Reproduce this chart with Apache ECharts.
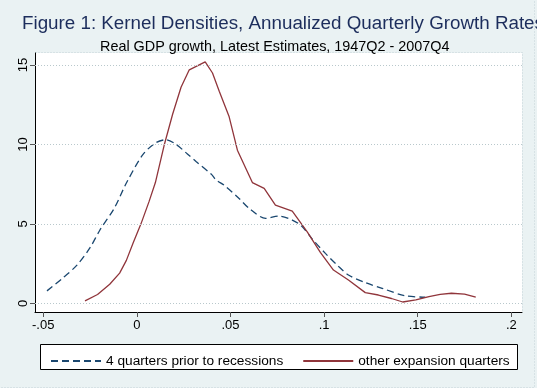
<!DOCTYPE html>
<html>
<head>
<meta charset="utf-8">
<script src="https://cdn.jsdelivr.net/npm/echarts@6/dist/echarts.min.js"></script>
<style>
html,body{margin:0;padding:0;background:#eaf2f3;}
#chart{width:537px;height:388px;}
</style>
</head>
<body>
<div id="chart"></div>
<script>
// Data
const priorX = [-0.048,-0.040,-0.032,-0.025,-0.0198,-0.012,-0.0056,0.0032,0.010,0.0156,0.021,0.027,0.0316,0.040,0.0422,0.047,0.0546,0.060,0.0688,0.076,0.083,0.088,0.094,0.1007,0.107,0.113,0.122,0.131,0.143,0.154];
const priorY = [0.78,1.55,2.4,3.5,4.6,6.0,7.57,9.36,10.1,10.3,10.0,9.4,8.93,8.1,7.78,7.4,6.6,5.97,5.35,5.49,5.24,4.86,4.0,3.14,2.4,1.78,1.3,0.94,0.48,0.38];
const otherX = [-0.0277,-0.021,-0.0145,-0.0092,-0.0056,-0.002,0.0022,0.0065,0.0099,0.0147,0.0191,0.0236,0.028,0.0365,0.0404,0.044,0.0493,0.0537,0.0617,0.068,0.074,0.083,0.091,0.098,0.105,0.113,0.122,0.129,0.136,0.142,0.149,0.156,0.162,0.168,0.175,0.181];
const otherY = [0.15,0.55,1.2,1.9,2.7,3.8,5.0,6.4,7.6,10.0,11.9,13.6,14.7,15.2,14.5,13.35,11.74,9.64,7.6,7.23,6.18,5.8,4.5,3.2,2.09,1.47,0.67,0.52,0.3,0.08,0.21,0.42,0.56,0.63,0.58,0.38];
const xTicks = [-0.05,0,0.05,0.1,0.15,0.2];
const yTicks = [0,5,10,15];
const seriesNames = ['4 quarters prior to recessions','other expansion quarters'];
const titleText = 'Figure 1: Kernel Densities, Annualized Quarterly Growth Rates';
const subtitleText = 'Real GDP growth, Latest Estimates, 1947Q2 - 2007Q4';

const zip = (xs, ys) => xs.map((x, i) => [x, ys[i]]);
const fmt = v => {
  if (v === 0) return '0';
  let s = String(+v.toFixed(4));
  return s.replace(/^(-?)0\./, '$1.');
};
const FONT = '"Liberation Sans", Arial, Helvetica, sans-serif';

const chart = echarts.init(document.getElementById('chart'), null, {renderer:'canvas'});
chart.setOption({
  backgroundColor: '#eaf2f3',
  animation: false,
  title: [
    {text: titleText, left: 17, top: 9, textStyle:{fontFamily:FONT, fontSize:18.8, fontWeight:'normal', color:'#1c2d5c'}},
    {text: subtitleText, left: 95, top: 35, textStyle:{fontFamily:FONT, fontSize:14.4, fontWeight:'normal', color:'#000'}}
  ],
  grid: {left:35, top:53, right:15, bottom:76, show:true, backgroundColor:'#fff', borderWidth:0},
  xAxis: {
    type:'value', min:-0.0544, max:0.2057,
    axisLine:{show:true, onZero:false, lineStyle:{color:'#000', width:1}},
    axisTick:{show:true, length:5, customValues:xTicks, lineStyle:{color:'#555'}},
    axisLabel:{customValues:xTicks, formatter:fmt, margin:7, color:'#000', fontFamily:FONT, fontSize:13},
    splitLine:{show:false}
  },
  yAxis: {
    type:'value', min:-0.55, max:15.76,
    axisLine:{show:true, onZero:false, lineStyle:{color:'#000', width:1}},
    axisTick:{show:true, length:5, customValues:yTicks, lineStyle:{color:'#555'}},
    axisLabel:{customValues:yTicks, rotate:90, margin:5, color:'#000', fontFamily:FONT, fontSize:13, formatter:fmt},
    splitLine:{show:false}
  },
  legend: {
    left: 45, top: 349, itemWidth: 50, itemHeight: 14, itemGap: 19,
    data: seriesNames,
    itemStyle:{color:'transparent', borderWidth:0, opacity:0},
    textStyle:{fontFamily:FONT, fontSize:13.7, color:'#000'}
  },
  graphic: [
    {type:'rect', shape:{x:40.5, y:344.5, width:477, height:25}, style:{fill:'#fff', stroke:'#000', lineWidth:1}, z:-1, silent:true},
    {type:'rect', shape:{x:35.5, y:52.5, width:487, height:259}, style:{fill:'none', stroke:'#c5d3d6', lineWidth:1, lineDash:[1,2]}, z:-1, silent:true},
    {type:'rect', shape:{x:-5, y:-5, width:539.5, height:392.5}, style:{fill:'none', stroke:'#c5d3d6', lineWidth:1, lineDash:[1,2]}, z:-1, silent:true}
  ],
  series: [
    {
      name: seriesNames[0], type:'line', data: zip(priorX, priorY), showSymbol:false, symbol:'none', smooth:0.3,
      lineStyle:{color:'#1a476f', width:1.3, type:[7,4]}, itemStyle:{color:'#1a476f'},
      markLine:{silent:true, symbol:'none', label:{show:false},
        lineStyle:{color:'#b9c8cc', type:[1,2], width:1},
        data: yTicks.map(v => ({yAxis:v}))}
    },
    {
      name: seriesNames[1], type:'line', data: zip(otherX, otherY), showSymbol:false, symbol:'none',
      lineStyle:{color:'#90353b', width:1.3}, itemStyle:{color:'#90353b'}
    }
  ]
});
</script>
</body>
</html>
